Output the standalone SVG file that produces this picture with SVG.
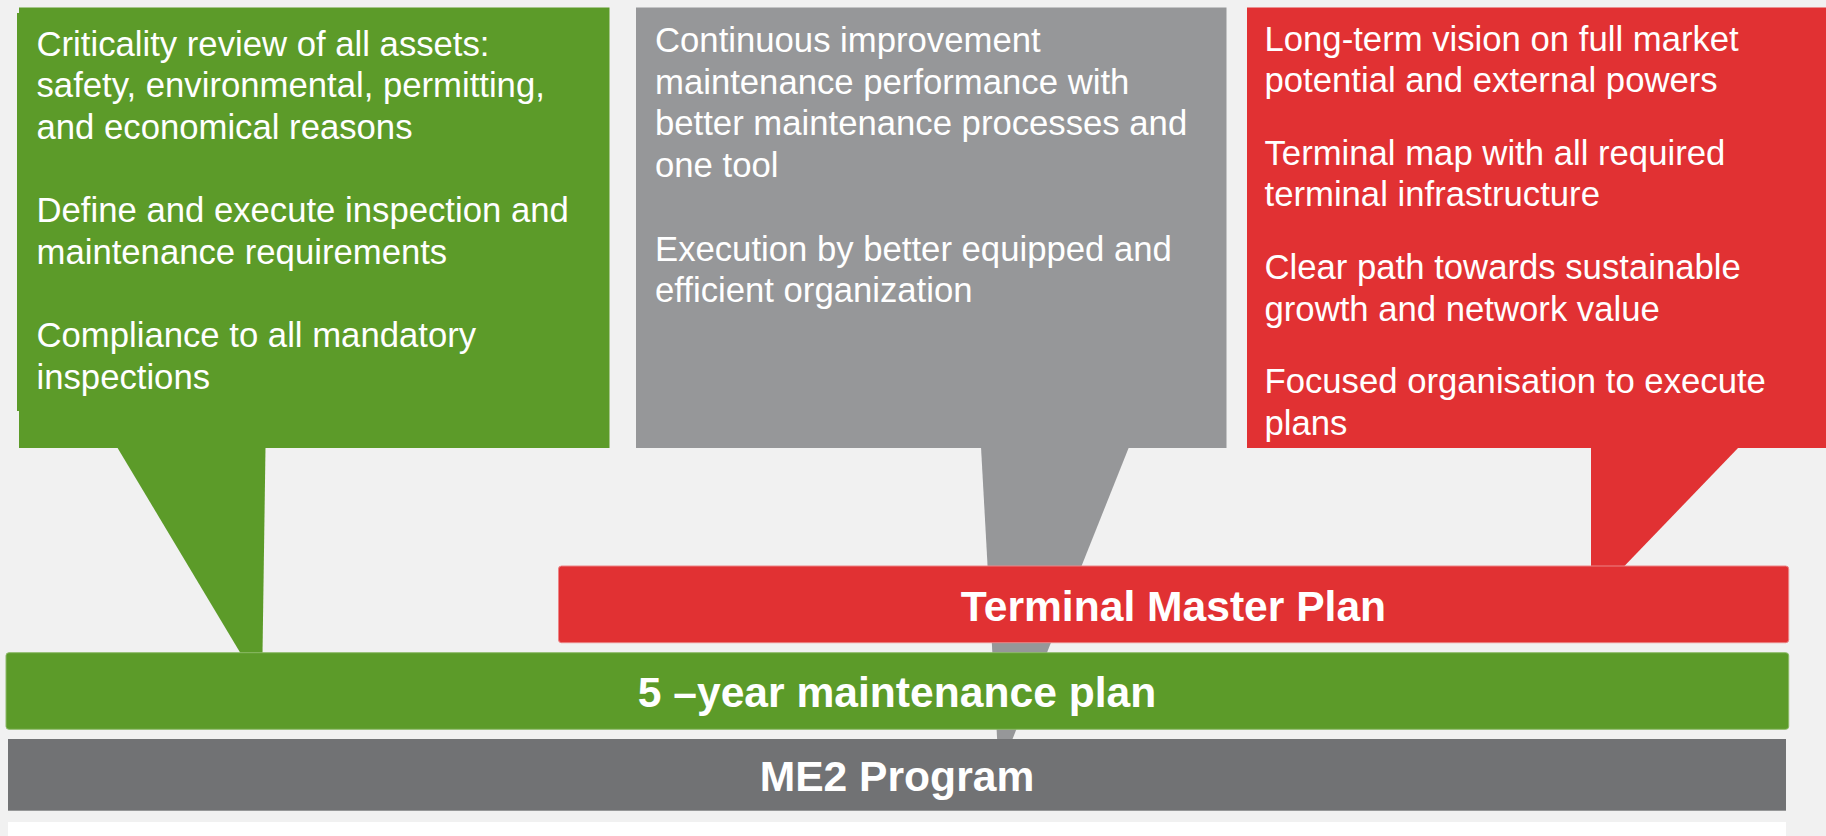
<svg xmlns="http://www.w3.org/2000/svg" width="1826" height="836" viewBox="0 0 1826 836">
  <style>
    .body { font-family: "Liberation Sans", Arial, sans-serif; font-size: 34.7px; fill: #ffffff; }
    .bar-label { font-family: "Liberation Sans", Arial, sans-serif; font-size: 42.6px; font-weight: bold; fill: #ffffff; text-anchor: middle; }
    .green { fill: #5c9b29; }
    .grey { fill: #969799; }
    .red { fill: #e13133; }
    .dark { fill: #717274; }
  </style>

  <!-- page -->
  <rect x="0" y="0" width="1826" height="836" fill="#f1f1f1"/>
  <rect x="8" y="822" width="1778" height="14" fill="#ffffff"/>

  <!-- callout: asset criticality -->
  <g id="callout-maintenance">
    <rect class="green" x="17" y="13" width="300" height="398"/>
    <rect class="green" x="19" y="7.5" width="590.5" height="440.5"/>
    <text class="body">
      <tspan x="36.5" y="55.5">Criticality review of all assets:</tspan>
      <tspan x="36.5" y="97.2">safety, environmental, permitting,</tspan>
      <tspan x="36.5" y="138.9">and economical reasons</tspan>
      <tspan x="36.5" y="222.3">Define and execute inspection and</tspan>
      <tspan x="36.5" y="264">maintenance requirements</tspan>
      <tspan x="36.5" y="347.4">Compliance to all mandatory</tspan>
      <tspan x="36.5" y="389.1">inspections</tspan>
    </text>
  </g>

  <!-- callout: continuous improvement -->
  <g id="callout-program">
    <rect class="grey" x="636" y="7.5" width="590.5" height="440.5"/>
    <text class="body">
      <tspan x="655" y="52">Continuous improvement</tspan>
      <tspan x="655" y="93.7">maintenance performance with</tspan>
      <tspan x="655" y="135.4">better maintenance processes and</tspan>
      <tspan x="655" y="177.1">one tool</tspan>
      <tspan x="655" y="260.5">Execution by better equipped and</tspan>
      <tspan x="655" y="302.2">efficient organization</tspan>
    </text>
  </g>

  <!-- callout: long-term vision -->
  <g id="callout-masterplan">
    <rect class="red" x="1247" y="7.5" width="579" height="440.5"/>
    <text class="body">
      <tspan x="1264.5" y="50.5">Long-term vision on full market</tspan>
      <tspan x="1264.5" y="92">potential and external powers</tspan>
      <tspan x="1264.5" y="164.8">Terminal map with all required</tspan>
      <tspan x="1264.5" y="206.3">terminal infrastructure</tspan>
      <tspan x="1264.5" y="279.1">Clear path towards sustainable</tspan>
      <tspan x="1264.5" y="320.6">growth and network value</tspan>
      <tspan x="1264.5" y="393.4">Focused organisation to execute</tspan>
      <tspan x="1264.5" y="434.9">plans</tspan>
    </text>
  </g>

  <!-- callout pointers down to the plan bars -->
  <g id="connectors">
    <polygon class="green" points="117,447 265.5,447 262.5,654 241,654"/>
    <polygon class="grey" points="981,447 1129,447 999,773"/>
    <polygon class="red" points="1591,447 1739,447 1623.5,567 1591,567"/>
  </g>

  <!-- stacked plan bars -->
  <g id="bar-me2">
    <rect class="dark" x="8" y="739" width="1778" height="71.7"/>
    <text class="bar-label" x="897" y="791">ME2 Program</text>
  </g>

  <g id="bar-maintenance">
    <rect class="green" x="6" y="652.7" width="1782.7" height="76.6" rx="3" stroke="#8dba68" stroke-width="1"/>
    <text class="bar-label" x="897" y="707">5 –year maintenance plan</text>
  </g>

  <g id="bar-masterplan">
    <rect class="red" x="558.5" y="566" width="1230.2" height="76.7" rx="3" stroke="#ec8486" stroke-width="1"/>
    <text class="bar-label" x="1173.5" y="621">Terminal Master Plan</text>
  </g>
</svg>
